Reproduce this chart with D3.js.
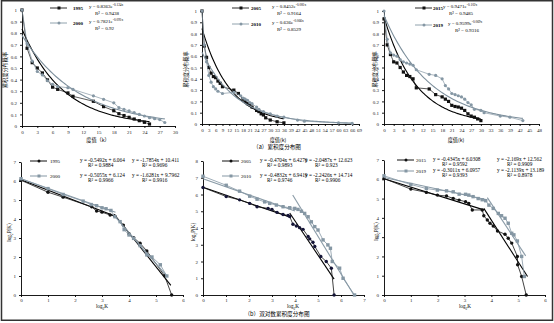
<!DOCTYPE html>
<html>
<head>
<meta charset="utf-8">
<script src="https://cdn.jsdelivr.net/npm/d3@7"></script>
<style>
body { margin: 0; background: #fff; }
text { font-family: "Liberation Serif", "Times New Roman", serif; }
.cjk { font-family: "Noto Sans CJK SC", sans-serif; }
</style>
</head>
<body>
<div id="chart"></div>
<script>
// ---- (a) cumulative degree distribution ----
const k1995 = [0, 1, 2, 3, 4, 5, 6, 7, 9, 10, 14, 16, 18, 19, 20, 21, 22, 23, 24, 25];
const p1995 = [1, 0.67, 0.546, 0.50, 0.457, 0.397, 0.335, 0.316, 0.285, 0.256, 0.213, 0.167, 0.132, 0.106, 0.09, 0.075, 0.06, 0.046, 0.032, 0.017];
const k2000 = [0, 1, 2, 3, 4, 5, 6, 7, 9, 10, 14, 16, 18, 19, 20, 21, 22, 23, 24, 25, 26, 27, 28];
const p2000 = [1, 0.71, 0.56, 0.47, 0.44, 0.39, 0.36, 0.34, 0.33, 0.315, 0.26, 0.23, 0.2, 0.158, 0.143, 0.13, 0.115, 0.1, 0.086, 0.072, 0.063, 0.055, 0.03];
const k2005 = [0, 1, 2, 3, 4, 5, 6, 7, 8, 9, 14, 16, 18, 19, 20, 21, 22, 24, 25, 26, 27, 28, 30, 33, 36];
const p2005 = [1, 0.69, 0.59, 0.5, 0.45, 0.42, 0.41, 0.38, 0.36, 0.33, 0.30, 0.27, 0.22, 0.2, 0.18, 0.17, 0.15, 0.12, 0.11, 0.09, 0.08, 0.055, 0.035, 0.02, 0.01];
const k2010 = [0, 1, 2, 3, 4, 5, 6, 7, 9, 14, 17, 18, 19, 20, 21, 22, 24, 25, 27, 30, 33, 36, 42, 45, 60, 66];
const p2010 = [1, 0.7, 0.55, 0.43, 0.37, 0.33, 0.31, 0.29, 0.27, 0.28, 0.25, 0.23, 0.22, 0.21, 0.19, 0.18, 0.15, 0.13, 0.11, 0.09, 0.07, 0.06, 0.035, 0.025, 0.01, 0.005];
const k2015 = [0, 1, 2, 3, 4, 5, 6, 7, 8, 9, 10, 14, 16, 18, 19, 20, 21, 22, 23, 24, 25, 26, 27, 28, 29, 30];
const p2015 = [0.93, 0.7, 0.615, 0.55, 0.54, 0.5, 0.46, 0.43, 0.42, 0.4, 0.32, 0.31, 0.26, 0.24, 0.22, 0.2, 0.165, 0.155, 0.15, 0.14, 0.12, 0.09, 0.07, 0.06, 0.045, 0.03];
const k2019 = [0, 1, 2, 3, 4, 5, 6, 7, 8, 9, 10, 14, 16, 18, 19, 20, 21, 22, 23, 24, 25, 26, 27, 28, 30, 31, 36, 39, 43];
const p2019 = [1, 0.75, 0.63, 0.61, 0.6, 0.57, 0.55, 0.54, 0.53, 0.52, 0.48, 0.44, 0.43, 0.40, 0.34, 0.31, 0.27, 0.26, 0.25, 0.24, 0.22, 0.19, 0.17, 0.13, 0.12, 0.1, 0.07, 0.06, 0.03];

// exponential trend lines y = a * e^(b x), as printed on the chart
const expFits = {
  1995: [0.8363, -0.124], 2000: [0.7821, -0.091],
  2005: [0.8452, -0.081], 2010: [0.636, -0.066],
  2015: [0.9471, -0.102], 2019: [0.9599, -0.069]
};
const expR2 = { 1995: "0.9438", 2000: "0.92", 2005: "0.9164", 2010: "0.8529", 2015: "0.9485", 2019: "0.9316" };

// ---- (b) log-log cumulative degree distribution ----
const lk1995 = [0, 1, 1.56, 2.62, 2.8, 3.0, 3.3, 3.48, 3.79, 4.0, 4.17, 4.41, 4.66, 5.32, 5.58];
const lp1995 = [6.04, 5.41, 5.15, 4.64, 4.42, 4.36, 4.21, 4.15, 3.68, 3.23, 3.02, 2.72, 2.32, 1.01, 0];
const lk2000 = [0, 1, 1.56, 2.3, 2.6, 2.8, 3.0, 3.15, 3.33, 3.48, 3.67, 3.82, 4.0, 4.17, 4.41, 4.66, 4.85, 5.16, 5.4];
const lp2000 = [6.12, 5.6, 5.29, 4.94, 4.76, 4.7, 4.59, 4.54, 4.45, 4.12, 3.86, 3.44, 3.16, 2.98, 2.6, 2.11, 2.0, 1.59, 1.0];
const lk2005 = [0, 1.01, 1.59, 2.03, 2.35, 2.83, 3.0, 3.22, 3.48, 3.7, 3.77, 3.91, 4.06, 4.2, 4.35, 4.57, 4.64, 4.78, 4.86, 5.12, 5.36, 5.58, 5.7];
const lp2005 = [6.42, 5.88, 5.68, 5.47, 5.27, 5.17, 5.11, 4.93, 4.81, 4.75, 4.69, 4.22, 4.12, 4.02, 3.92, 3.5, 3.35, 3.15, 2.9, 2.3, 2.0, 1.6, 0];
const lk2010 = [0, 1.01, 1.59, 2.03, 2.35, 2.68, 2.9, 3.19, 3.48, 3.77, 3.99, 4.13, 4.28, 4.42, 4.57, 4.71, 4.86, 5.0, 5.22, 5.43, 5.54, 5.62, 5.94, 6.09, 6.59];
const lp2010 = [7.09, 6.55, 6.2, 5.9, 5.72, 5.56, 5.47, 5.37, 5.27, 5.21, 5.17, 5.11, 5.0, 4.87, 4.67, 4.37, 4.08, 3.88, 3.29, 2.99, 2.79, 2.0, 1.6, 1.0, 0];
const lk2015 = [0, 1, 1.58, 1.99, 2.33, 2.58, 2.8, 3.04, 3.16, 3.29, 3.66, 3.72, 3.85, 3.95, 4.07, 4.23, 4.51, 4.63, 4.76, 4.97, 4.98, 5.13, 5.3];
const lp2015 = [6.04, 5.49, 5.32, 5.18, 5.13, 5.01, 4.92, 4.84, 4.75, 4.41, 4.41, 4.11, 3.89, 3.72, 3.58, 3.32, 3.15, 2.94, 2.69, 2.0, 1.57, 0.96, 0];
const lk2019 = [0, 1, 1.58, 1.99, 2.33, 2.58, 2.8, 3.04, 3.16, 3.32, 3.51, 3.66, 3.79, 3.91, 4.07, 4.26, 4.38, 4.51, 4.63, 4.76, 4.84, 4.97, 5.13, 5.23];
const lp2019 = [6.18, 5.73, 5.52, 5.44, 5.4, 5.35, 5.23, 5.22, 5.18, 5.1, 5.0, 4.94, 4.89, 4.66, 4.49, 4.23, 4.11, 3.98, 3.72, 3.2, 3.12, 2.8, 2.0, 0.96];

// two linear trend lines per year: [slope, intercept, from, to, R²]
const linFits = {
  1995: [[-0.5492, 6.064, 0, 3.5, "0.9884"], [-1.7854, 10.411, 3.45, 5.55, "0.9696"]],
  2000: [[-0.5055, 6.124, 0, 3.5, "0.9966"], [-1.6281, 9.7962, 3.5, 5.4, "0.9916"]],
  2005: [[-0.4704, 6.4276, 0, 3.77, "0.9893"], [-2.0487, 12.623, 3.77, 5.7, "0.923"]],
  2010: [[-0.4832, 6.9419, 0, 4.0, "0.9746"], [-2.2426, 14.714, 3.9, 6.56, "0.9906"]],
  2015: [[-0.4345, 6.0308, 0, 3.72, "0.9592"], [-2.169, 12.562, 3.72, 5.35, "0.9909"]],
  2019: [[-0.3011, 6.0957, 0, 3.8, "0.9393"], [-2.1139, 13.189, 3.85, 5.28, "0.8978"]]
};

const BLACK = "#111";
const GRAY = "#8597a4";

const svg = d3.select("#chart").append("svg")
  .attr("width", 554).attr("height", 323);
svg.append("rect").attr("width", 554).attr("height", 323).attr("fill", "#fff");

function zip(xs, ys) { return xs.map((x, i) => [x, ys[i]]); }

function drawMarkers(g, pts, x, y, shape, color, size) {
  if (shape === "square") {
    g.selectAll(null).data(pts).enter().append("rect")
      .attr("x", d => x(d[0]) - size / 2).attr("y", d => y(d[1]) - size / 2)
      .attr("width", size).attr("height", size).attr("fill", color);
  } else {
    g.selectAll(null).data(pts).enter().append("circle")
      .attr("cx", d => x(d[0])).attr("cy", d => y(d[1]))
      .attr("r", size / 2).attr("fill", color);
  }
}

function axes(g, x, y, xTicks, yTicks, yFmt, pad) {
  const xa = g.append("g").attr("transform", `translate(0,${y.range()[0]})`)
    .call(d3.axisBottom(x).tickValues(xTicks).tickSize(2).tickSizeOuter(0).tickPadding(pad)
      .tickFormat(d3.format("d")));
  const ya = g.append("g").attr("transform", `translate(${x.range()[0]},0)`)
    .call(d3.axisLeft(y).tickValues(yTicks).tickSize(2).tickSizeOuter(0).tickPadding(3).tickFormat(yFmt));
  [xa, ya].forEach(a => {
    a.selectAll("path,line").attr("stroke", "#000").attr("stroke-width", 0.9);
    a.selectAll("text").attr("font-size", 5).attr("fill", "#222")
      .attr("font-family", "Liberation Serif, serif");
  });
}

// ---------- top row ----------
const topPanels = [
  { l: 22, r: 175, t: 10, b: 126, xmax: 30, years: [1995, 2000], ks: [k1995, k2000], ps: [p1995, p2000],
    yT: 7, xT: 98, xTitle: "度值（k）",
    leg: { line: 50, year: 73, eq: [89, 89], r2: [95, 95], ys: [8, 23] } },
  { l: 202, r: 359, t: 11, b: 124, xmax: 69, years: [2005, 2010], ks: [k2005, k2010], ps: [p2005, p2010],
    yT: 188, xT: 278, xTitle: "度值(k)",
    leg: { line: 232, year: 251, eq: [272, 272], r2: [277, 277], ys: [8, 24] } },
  { l: 384, r: 539, t: 11, b: 124, xmax: 48, years: [2015, 2019], ks: [k2015, k2019], ps: [p2015, p2019],
    yT: 377, xT: 456, xTitle: "度值(k)",
    leg: { line: 415, year: 433, eq: [443, 448], r2: [449, 455], ys: [8, 25] } }
];

topPanels.forEach(P => {
  const g = svg.append("g");
  const x = d3.scaleLinear().domain([0, P.xmax]).range([P.l, P.r]);
  const y = d3.scaleLinear().domain([0, 1]).range([P.b, P.t]);
  axes(g, x, y, d3.range(0, P.xmax + 1, 3), d3.range(0, 1.01, 0.1).map(v => +v.toFixed(1)), d3.format(".1~f"), 2);

  P.years.forEach((yr, i) => {
    const color = i === 0 ? BLACK : GRAY;
    const pts = zip(P.ks[i], P.ps[i]);
    const [a, b] = expFits[yr];
    const kmax = d3.max(P.ks[i]);
    const curve = d3.range(0, kmax + 0.001, kmax / 80).map(k => [k, a * Math.exp(b * k)]);
    const line = d3.line().x(d => x(d[0])).y(d => y(d[1]));
    g.append("path").attr("d", line(curve)).attr("fill", "none")
      .attr("stroke", i === 0 ? "#000" : "#7d8f9c").attr("stroke-width", 1.1);
    g.append("path").attr("d", line(pts)).attr("fill", "none")
      .attr("stroke", color).attr("stroke-width", 0.7);
    drawMarkers(g, pts, x, y, i === 0 ? "square" : "circle", color, 3.2);

    // legend
    const L = P.leg, ly = L.ys[i];
    g.append("line").attr("x1", L.line).attr("x2", L.line + 17).attr("y1", ly).attr("y2", ly)
      .attr("stroke", color).attr("stroke-width", 0.9);
    drawMarkers(g, [[0, 0]], () => L.line + 9, () => ly, i === 0 ? "square" : "circle", color, 3);
    g.append("text").attr("x", L.year).attr("y", ly + 1.8).attr("font-size", 5)
      .attr("font-weight", "bold").text(yr);
    const eq = g.append("text").attr("x", L.eq[i]).attr("y", ly - 0.5).attr("font-size", 5);
    eq.append("tspan").text(`y = ${a}e`);
    eq.append("tspan").attr("dy", -1.8).attr("font-size", 3.4).text(`${b}x`);
    g.append("text").attr("x", L.r2[i]).attr("y", ly + 6.5).attr("font-size", 5).text(`R² = ${expR2[yr]}`);
  });

  g.append("text").attr("class", "cjk").attr("font-size", 5.2)
    .attr("transform", `translate(${P.yT},${(P.t + P.b) / 2 + 2}) rotate(-90)`)
    .attr("text-anchor", "middle").text("累积度分布概率");
  g.append("text").attr("class", "cjk").attr("font-size", 5.2).attr("x", P.xT).attr("y", 141.5)
    .attr("text-anchor", "middle").text(P.xTitle);
});

svg.append("text").attr("class", "cjk").attr("x", 277).attr("y", 149).attr("font-size", 5.6)
  .attr("text-anchor", "middle").text("（a）累积度分布图");

// ---------- bottom row ----------
const botPanels = [
  { l: 21, r: 183, t: 162, b: 295, xmax: 6, ymax: 7, years: [1995, 2000], ks: [lk1995, lk2000], ps: [lp1995, lp2000],
    yT: 11, xT: 102,
    leg: { line: 30, year: 50, eq1: 80, r1: 88, eq2: 132, r2: 142, ys: [161, 176] } },
  { l: 203, r: 364, t: 161, b: 295, xmax: 7, ymax: 8, years: [2005, 2010], ks: [lk2005, lk2010], ps: [lp2005, lp2010],
    yT: 195, xT: 293,
    leg: { line: 222, year: 241, eq1: 260, r1: 267, eq2: 305, r2: 315, ys: [161, 176] } },
  { l: 384, r: 545, t: 160, b: 295, xmax: 6, ymax: 7, years: [2015, 2019], ks: [lk2015, lk2019], ps: [lp2015, lp2019],
    yT: 378, xT: 465,
    leg: { line: 397, year: 416, eq1: 433, r1: 442, eq2: 497, r2: 507, ys: [160, 171] } }
];

botPanels.forEach(P => {
  const g = svg.append("g");
  const x = d3.scaleLinear().domain([0, P.xmax]).range([P.l, P.r]);
  const y = d3.scaleLinear().domain([0, P.ymax]).range([P.b, P.t]);
  axes(g, x, y, d3.range(0, P.xmax + 1), d3.range(0, P.ymax + 1), d3.format("d"), 1.5);

  P.years.forEach((yr, i) => {
    const color = i === 0 ? BLACK : GRAY;
    const pts = zip(P.ks[i], P.ps[i]);
    const line = d3.line().x(d => x(d[0])).y(d => y(d[1]));
    linFits[yr].forEach(f => {
      const [m, c, x0, x1] = f;
      g.append("path").attr("d", line([[x0, m * x0 + c], [x1, m * x1 + c]])).attr("fill", "none")
        .attr("stroke", i === 0 ? "#000" : "#8a9ba7").attr("stroke-width", 1.1);
    });
    g.append("path").attr("d", line(pts)).attr("fill", "none")
      .attr("stroke", color).attr("stroke-width", 0.8);
    drawMarkers(g, pts, x, y, i === 0 ? "circle" : "square", i === 0 && yr === 2005 ? "#141436" : color, 3.4);

    const L = P.leg, ly = L.ys[i];
    g.append("line").attr("x1", L.line).attr("x2", L.line + 17).attr("y1", ly).attr("y2", ly)
      .attr("stroke", color).attr("stroke-width", 1);
    drawMarkers(g, [[0, 0]], () => L.line + 9, () => ly, i === 0 ? "circle" : "square", color, 3);
    g.append("text").attr("x", L.year).attr("y", ly + 1.8).attr("font-size", 5).text(yr);
    const [f1, f2] = linFits[yr];
    const fmt = f => `y = ${f[0]}x + ${f[1]}`;
    g.append("text").attr("x", L.eq1).attr("y", ly + 1).attr("font-size", 5.3).text(fmt(f1));
    g.append("text").attr("x", L.r1).attr("y", ly + 6.3).attr("font-size", 5.3).text(`R² = ${f1[4]}`);
    g.append("text").attr("x", L.eq2).attr("y", ly + 1).attr("font-size", 5.3).text(fmt(f2));
    g.append("text").attr("x", L.r2).attr("y", ly + 6.3).attr("font-size", 5.3).text(`R² = ${f2[4]}`);
  });

  const yl = g.append("text").attr("font-size", 5.2)
    .attr("transform", `translate(${P.yT},${(P.t + P.b) / 2 + 4}) rotate(-90)`)
    .attr("text-anchor", "middle");
  yl.append("tspan").text("log");
  yl.append("tspan").attr("dy", 1.5).attr("font-size", 3.6).text("2");
  yl.append("tspan").attr("dy", -1.5).text("P(K)");
  const xl = g.append("text").attr("font-size", 5.2).attr("x", P.xT).attr("y", 308)
    .attr("text-anchor", "middle");
  xl.append("tspan").text("log");
  xl.append("tspan").attr("dy", 1.5).attr("font-size", 3.6).text("2");
  xl.append("tspan").attr("dy", -1.5).text("K");
});

svg.append("text").attr("class", "cjk").attr("x", 277).attr("y", 316).attr("font-size", 5.6)
  .attr("text-anchor", "middle").text("（b）双对数累积度分布图");

// frame
svg.append("rect").attr("x", 1.5).attr("y", 0.75).attr("width", 551).attr("height", 319.5)
  .attr("fill", "none").attr("stroke", "#333").attr("stroke-width", 1.5);
</script>
</body>
</html>
